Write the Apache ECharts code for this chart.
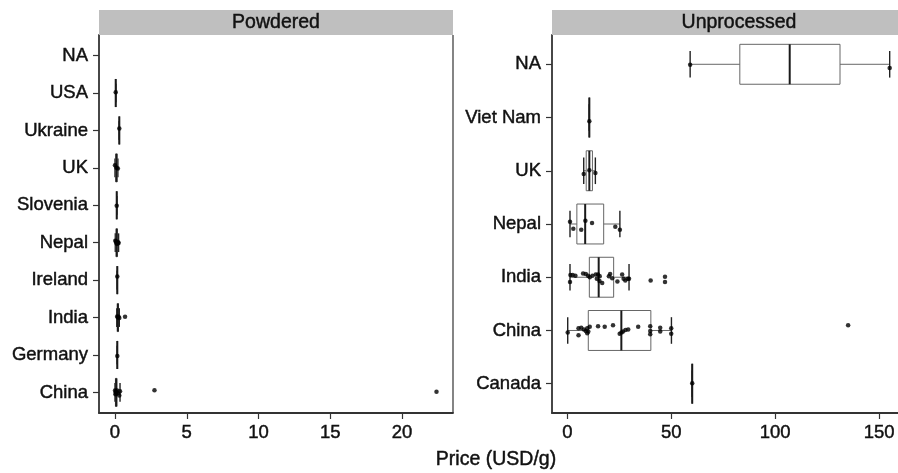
<!DOCTYPE html>
<html><head><meta charset="utf-8">
<script src="https://cdn.jsdelivr.net/npm/echarts@6/dist/echarts.min.js"></script>
<style>html,body{margin:0;padding:0;background:#fff}#c{width:898px;height:473px}</style>
</head><body><div id="c"></div><script>
// ---------- DATA ----------
const powderedCats = ['NA','USA','Ukraine','UK','Slovenia','Nepal','Ireland','India','Germany','China'];
// [min, q1, median, q3, max] per category (null = no data)
const powderedBoxes = [
  null,
  [0.05,0.05,0.05,0.05,0.05],
  [0.3,0.3,0.3,0.3,0.3],
  [0.0,0.05,0.1,0.15,0.2],
  [0.12,0.12,0.12,0.12,0.12],
  [0.02,0.08,0.12,0.16,0.25],
  [0.16,0.16,0.16,0.16,0.16],
  [0.12,0.16,0.2,0.24,0.3],
  [0.16,0.16,0.16,0.16,0.16],
  [0.0,0.03,0.08,0.14,0.35]
];
// jittered points: [price, vertical jitter (category units)]
const powderedPoints = [
  [],
  [[0.05,-0.02]],
  [[0.3,-0.05]],
  [[0.0,-0.07],[0.1,0.0],[0.2,0.02]],
  [[0.12,0.01]],
  [[0.02,-0.05],[0.08,-0.03],[0.1,0.0],[0.12,0.03],[0.15,-0.02],[0.18,0.02],[0.22,-0.01],[0.25,0.01]],
  [[0.16,-0.1]],
  [[0.15,-0.03],[0.2,0.0],[0.25,-0.02],[0.3,0.01],[0.7,-0.02]],
  [[0.16,0.03]],
  [[0.0,-0.05],[0.03,0.05],[0.05,0.0],[0.08,-0.02],[0.1,0.03],[0.15,-0.05],[0.2,0.02],[0.3,0.08],[0.35,-0.03],[2.75,-0.06],[22.4,-0.02]]
];

const unprocCats = ['NA','Viet Nam','UK','Nepal','India','China','Canada'];
const unprocBoxes = [
  [59.1,83.0,107.0,131.2,155.1],
  [10.6,10.6,10.6,10.6,10.6],
  [7.9,9.1,10.6,12.1,13.5],
  [1.3,4.6,8.6,17.5,25.3],
  [1.3,10.6,15.1,22.3,29.7],
  [0.2,10.1,26.0,40.2,50.1],
  [60.1,60.1,60.1,60.1,60.1]
];
const unprocPoints = [
  [[59.1,0.01],[155.1,0.07]],
  [[10.6,0.07]],
  [[7.9,0.06],[10.6,-0.01],[13.5,0.04]],
  [[1.3,-0.04],[2.9,0.09],[6.7,0.11],[8.7,-0.06],[11.9,-0.02],[23.1,0.05],[25.3,0.11]],
  [[1.3,0.09],[1.5,-0.04],[2.6,-0.04],[3.9,-0.03],[7.6,-0.07],[8.9,-0.06],[10.0,-0.03],[10.8,0.0],[12.1,-0.03],[13.7,-0.05],[14.8,-0.05],[15.6,-0.02],[14.2,0.03],[15.5,0.07],[16.8,0.11],[20.0,-0.02],[20.6,-0.06],[21.6,0.02],[24.1,0.08],[26.4,-0.05],[27.1,0.03],[27.9,0.06],[29.1,0.03],[29.7,0.03],[40.1,0.06],[47.0,-0.01],[47.0,0.09]],
  [[0.2,0.04],[5.4,-0.04],[5.4,0.09],[6.7,-0.05],[8.0,-0.02],[8.9,0.01],[9.6,-0.04],[9.6,0.05],[10.1,0.02],[10.8,-0.07],[14.8,-0.08],[18.0,-0.07],[22.0,-0.10],[25.2,0.06],[26.1,0.04],[26.8,0.02],[28.0,-0.01],[29.3,-0.02],[34.1,-0.07],[39.9,-0.08],[39.9,0.01],[39.9,0.07],[44.7,-0.05],[44.7,0.02],[50.0,-0.04],[50.0,0.06],[135.1,-0.10]],
  [[60.1,-0.01]]
];

const panelTitles = ['Powdered','Unprocessed'];
const xTicksPowdered = [0,5,10,15,20];
const xTicksUnproc = [0,50,100,150];
const xAxisTitle = 'Price (USD/g)';

// ---------- BUILD ----------
const FONT = '"Liberation Sans", Arial, sans-serif';
const TXT = '#111';
const AX = '#333';
const TB = 0.45; // slight text weight

function boxData(boxes){
  const out = [];
  boxes.forEach((b,i)=>{ if(b) out.push([i].concat(b)); });
  return out;
}
function pointData(pts){
  const out = [];
  pts.forEach((arr,i)=>arr.forEach(p=>out.push([p[0], i + p[1]])));
  return out;
}
function renderBox(params, api){
  const idx = api.value(0);
  const mn = api.value(1), q1 = api.value(2), md = api.value(3), q3 = api.value(4), mx = api.value(5);
  const c = api.coord([md, idx]);
  const hBox = api.size([0, 0.75])[1] / 2;
  const hCap = api.size([0, 0.5])[1] / 2;
  const pMin = api.coord([mn, idx])[0], pQ1 = api.coord([q1, idx])[0];
  const pQ3 = api.coord([q3, idx])[0], pMax = api.coord([mx, idx])[0];
  const y = c[1];
  const grey = '#666';
  return {type:'group', children:[
    {type:'line', shape:{x1:pMin,y1:y,x2:pQ1,y2:y}, style:{stroke:grey,lineWidth:1}},
    {type:'line', shape:{x1:pQ3,y1:y,x2:pMax,y2:y}, style:{stroke:grey,lineWidth:1}},
    {type:'line', shape:{x1:pMin,y1:y-hCap,x2:pMin,y2:y+hCap}, style:{stroke:'#222',lineWidth:1.4}},
    {type:'line', shape:{x1:pMax,y1:y-hCap,x2:pMax,y2:y+hCap}, style:{stroke:'#222',lineWidth:1.4}},
    {type:'rect', shape:{x:pQ1,y:y-hBox,width:Math.max(pQ3-pQ1,0),height:2*hBox}, style:{fill:'none',stroke:grey,lineWidth:1}},
    {type:'line', shape:{x1:c[0],y1:y-hBox,x2:c[0],y2:y+hBox}, style:{stroke:'#1a1a1a',lineWidth:2}}
  ]};
}

const grids = [
  {left:99, top:35, width:354, height:378},
  {left:552, top:35, width:346, height:378}
];

function yAxis(gi, cats){
  return {
    type:'value', gridIndex:gi, inverse:true, min:-0.55, max:cats.length-1+0.55,
    splitLine:{show:false},
    axisLine:{show:true, onZero:false, lineStyle:{color:AX, width:1.8}},
    axisTick:{show:true, length:6, customValues:cats.map((c,i)=>i), lineStyle:{color:AX, width:1.2}},
    axisLabel:{customValues:cats.map((c,i)=>i), formatter:v=>cats[Math.round(v)], color:TXT, fontSize:18.5, fontFamily:FONT, margin:11, textBorderColor:TXT, textBorderWidth:TB}
  };
}
function xAxis(gi, mn, mx, ticks){
  return {
    type:'value', gridIndex:gi, min:mn, max:mx,
    splitLine:{show:false},
    axisLine:{show:true, onZero:false, lineStyle:{color:AX, width:1.8}},
    axisTick:{show:true, length:6, customValues:ticks, lineStyle:{color:AX, width:1.2}},
    axisLabel:{customValues:ticks, color:TXT, fontSize:18.5, fontFamily:FONT, margin:10, textBorderColor:TXT, textBorderWidth:TB}
  };
}
function txt(x, y, s){
  return {type:'text', x:x, y:y, style:{text:s, fill:TXT, stroke:TXT, lineWidth:TB, font:'19.5px '+FONT, textAlign:'center', textVerticalAlign:'middle'}, z:11};
}

const option = {
  animation:false,
  backgroundColor:'#fff',
  grid:grids,
  xAxis:[xAxis(0,-1.115,23.55,xTicksPowdered), xAxis(1,-7.36,159.1,xTicksUnproc)],
  yAxis:[yAxis(0,powderedCats), yAxis(1,unprocCats)],
  series:[
    {type:'custom', xAxisIndex:0, yAxisIndex:0, data:boxData(powderedBoxes), renderItem:renderBox, encode:{x:[1,2,3,4,5], y:0}, z:2},
    {type:'custom', xAxisIndex:1, yAxisIndex:1, data:boxData(unprocBoxes), renderItem:renderBox, encode:{x:[1,2,3,4,5], y:0}, z:2},
    {type:'scatter', xAxisIndex:0, yAxisIndex:0, data:pointData(powderedPoints), symbolSize:4.5, itemStyle:{color:'#000'}, z:3},
    {type:'scatter', xAxisIndex:1, yAxisIndex:1, data:pointData(unprocPoints), symbolSize:4.5, itemStyle:{color:'#000'}, z:3}
  ],
  graphic:[
    {type:'rect', shape:{x:99,y:10,width:354,height:25}, style:{fill:'#bfbfbf'}, z:10},
    {type:'rect', shape:{x:552,y:10,width:360,height:25}, style:{fill:'#bfbfbf'}, z:10},
    txt(276, 23, panelTitles[0]),
    txt(739, 23, panelTitles[1]),
    {type:'line', shape:{x1:453,y1:35,x2:453,y2:413}, style:{stroke:AX,lineWidth:1.2}, z:10},
    txt(496, 460, xAxisTitle)
  ]
};
const chart = echarts.init(document.getElementById('c'), null, {renderer:'canvas'});
chart.setOption(option);
</script></body></html>
